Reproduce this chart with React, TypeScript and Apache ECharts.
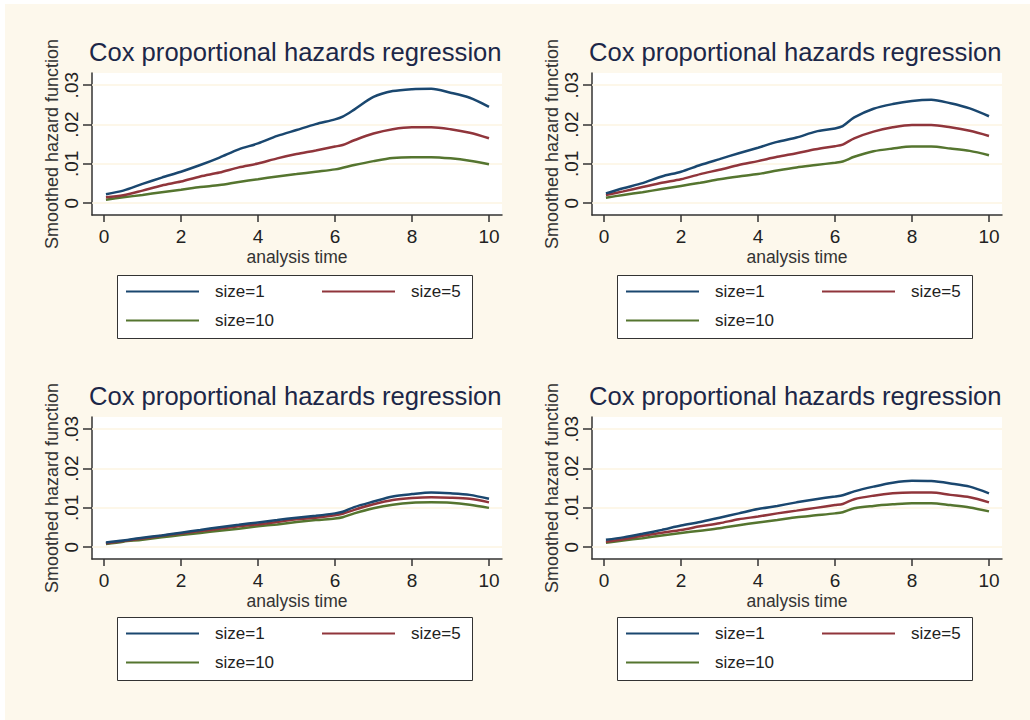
import React, { useEffect, useRef } from "react";
import * as echarts from "echarts";

const time = [0.05, 0.5, 1, 1.5, 2, 2.5, 3, 3.5, 4, 4.5, 5, 5.5, 6, 6.2, 6.5, 7, 7.5, 8, 8.5, 9, 9.5, 10];
const seriesNames = ["size=1", "size=5", "size=10"];
const xTicks = [0, 2, 4, 6, 8, 10];
const yTicks = [0, 0.01, 0.02, 0.03];
const titleText = "Cox proportional hazards regression";
const yTitle = "Smoothed hazard function";
const xTitle = "analysis time";

const p1Blue = [0.0023, 0.0032, 0.0049, 0.0065, 0.008, 0.0097, 0.0116, 0.0137, 0.0152, 0.0171, 0.0186, 0.0201, 0.0213, 0.022, 0.0238, 0.027, 0.0285, 0.029, 0.0291, 0.0281, 0.0268, 0.0245];
const p1Red = [0.0015, 0.002, 0.0032, 0.0045, 0.0055, 0.0068, 0.0078, 0.0091, 0.0101, 0.0114, 0.0125, 0.0134, 0.0144, 0.0148, 0.016, 0.0177, 0.0188, 0.0193, 0.0193, 0.0188, 0.0179, 0.0165];
const p1Green = [0.0009, 0.0015, 0.0021, 0.0028, 0.0034, 0.0041, 0.0046, 0.0054, 0.0061, 0.0068, 0.0074, 0.008, 0.0086, 0.009, 0.0097, 0.0107, 0.0115, 0.0117, 0.0117, 0.0114, 0.0108, 0.0099];

const p2Blue = [0.0025, 0.0038, 0.0051, 0.0068, 0.008, 0.0097, 0.0112, 0.0127, 0.0141, 0.0156, 0.0167, 0.0182, 0.019, 0.0196, 0.0218, 0.024, 0.0252, 0.026, 0.0263, 0.0254, 0.0241, 0.0221];
const p2Red = [0.0021, 0.003, 0.0041, 0.0052, 0.0061, 0.0074, 0.0085, 0.0097, 0.0107, 0.0118, 0.0127, 0.0137, 0.0145, 0.0149, 0.0165, 0.0182, 0.0193, 0.0199, 0.0199, 0.0193, 0.0184, 0.0171];
const p2Green = [0.0014, 0.0021, 0.0028, 0.0036, 0.0044, 0.0052, 0.0061, 0.0068, 0.0074, 0.0083, 0.0091, 0.0097, 0.0103, 0.0106, 0.0118, 0.0132, 0.0139, 0.0144, 0.0144, 0.0139, 0.0133, 0.0122];

const p3Blue = [0.0012, 0.0017, 0.0024, 0.003, 0.0037, 0.0044, 0.0051, 0.0057, 0.0063, 0.0069, 0.0075, 0.008, 0.0086, 0.009, 0.0102, 0.0116, 0.0129, 0.0135, 0.0139, 0.0137, 0.0133, 0.0123];
const p3Red = [0.001, 0.0016, 0.0022, 0.0029, 0.0035, 0.0041, 0.0047, 0.0053, 0.0058, 0.0064, 0.0071, 0.0075, 0.0081, 0.0085, 0.0095, 0.0109, 0.012, 0.0125, 0.0127, 0.0126, 0.0123, 0.0114];
const p3Green = [0.0008, 0.0014, 0.0019, 0.0025, 0.0031, 0.0036, 0.0042, 0.0047, 0.0053, 0.0058, 0.0064, 0.0069, 0.0073, 0.0076, 0.0086, 0.0099, 0.0108, 0.0113, 0.0114, 0.0113, 0.0108, 0.01];

const p4Blue = [0.0019, 0.0025, 0.0034, 0.0044, 0.0055, 0.0064, 0.0075, 0.0086, 0.0097, 0.0105, 0.0114, 0.0122, 0.0129, 0.0132, 0.0142, 0.0154, 0.0164, 0.0169, 0.0168, 0.0162, 0.0154, 0.0137];
const p4Red = [0.0014, 0.002, 0.0029, 0.0037, 0.0044, 0.0053, 0.0061, 0.0071, 0.0078, 0.0086, 0.0093, 0.01, 0.0107, 0.011, 0.0122, 0.0131, 0.0137, 0.0139, 0.0139, 0.0133, 0.0127, 0.0114];
const p4Green = [0.0011, 0.0017, 0.0023, 0.003, 0.0036, 0.0042, 0.0048, 0.0056, 0.0063, 0.0069, 0.0076, 0.0081, 0.0086, 0.0089, 0.0099, 0.0105, 0.0109, 0.0112, 0.0112, 0.0107, 0.0101, 0.0091];

const panels = [
  [p1Blue, p1Red, p1Green],
  [p2Blue, p2Red, p2Green],
  [p3Blue, p3Red, p3Green],
  [p4Blue, p4Red, p4Green],
];

const colors = ["#1a476f", "#90353b", "#55752f"];
const FONT = "Arial, 'Liberation Sans', Helvetica, sans-serif";

export default function App() {
  const ref = useRef<HTMLDivElement>(null);

  useEffect(() => {
    document.body.style.margin = "0";
    if (!ref.current) return;
    const chart = echarts.init(ref.current, null, { renderer: "svg" });

    const offsets = [
      { dx: 0, dy: 0 },
      { dx: 500, dy: 0 },
      { dx: 0, dy: 344 },
      { dx: 500, dy: 344 },
    ];

    const grids: any[] = [];
    const xAxes: any[] = [];
    const yAxes: any[] = [];
    const series: any[] = [];
    const titles: any[] = [];
    const legends: any[] = [];
    const graphics: any[] = [];

    offsets.forEach((o, i) => {
      grids.push({
        left: 92 + o.dx,
        top: 73 + o.dy,
        width: 410,
        height: 142,
        show: true,
        backgroundColor: "#ffffff",
        borderWidth: 0,
      });
      xAxes.push({
        type: "value",
        gridIndex: i,
        min: -0.312,
        max: 10.338,
        position: "bottom",
        name: xTitle,
        nameLocation: "middle",
        nameGap: 33,
        nameTextStyle: { fontFamily: FONT, fontSize: 17.5, color: "#333" },
        axisLine: { show: true, onZero: false, lineStyle: { color: "#333", width: 1.5 } },
        axisTick: { show: true, length: 7, customValues: xTicks, lineStyle: { color: "#333", width: 1.5 } },
        axisLabel: {
          show: true,
          customValues: xTicks,
          margin: 12,
          fontFamily: FONT,
          fontSize: 19,
          color: "#222",
        },
        splitLine: { show: false },
      });
      yAxes.push({
        type: "value",
        gridIndex: i,
        min: -0.003,
        max: 0.0331,
        position: "left",
        name: yTitle,
        nameLocation: "middle",
        nameRotate: 90,
        nameGap: 29,
        nameTextStyle: { fontFamily: FONT, fontSize: 18, color: "#333" },
        axisLine: { show: true, onZero: false, lineStyle: { color: "#333", width: 1.5 } },
        axisTick: { show: true, length: 9, customValues: yTicks, lineStyle: { color: "#333", width: 1.5 } },
        axisLabel: {
          show: true,
          customValues: yTicks,
          rotate: 90,
          margin: 11,
          fontFamily: FONT,
          fontSize: 19,
          color: "#222",
          formatter: (v: number) => (v === 0 ? "0" : String(Number(v.toFixed(4))).replace(/^0\./, ".")),
        },
        splitLine: { show: false },
      });
      titles.push({
        text: titleText,
        left: 89 + o.dx,
        top: 39 + o.dy,
        padding: 0,
        textStyle: { fontFamily: FONT, fontSize: 25.6, fontWeight: "normal", color: "#1c2748" },
      });
      graphics.push({
        type: "rect",
        z: 1,
        shape: { x: 117.5 + o.dx, y: 275.5 + (o.dy ? 342 : 0), width: 355, height: 63 },
        style: { fill: "#ffffff", stroke: "#333", lineWidth: 1 },
      });
      const legendPos = [
        { x: 126, y: 293 },
        { x: 322, y: 293 },
        { x: 126, y: 322 },
      ];
      seriesNames.forEach((nm, k) => {
        legends.push({
          data: [nm],
          left: legendPos[k].x + o.dx,
          top: legendPos[k].y - 10 + (o.dy ? 342 : 0),
          padding: 0,
          icon: "rect",
          itemWidth: 73,
          itemHeight: 2,
          selectedMode: false,
          z: 5,
          textStyle: { fontFamily: FONT, fontSize: 17, color: "#222", padding: [0, 0, 0, 11] },
        });
      });
      panels[i].forEach((vals, k) => {
        series.push({
          type: "line",
          name: seriesNames[k],
          xAxisIndex: i,
          yAxisIndex: i,
          data: time.map((t, j) => [t, vals[j]]),
          showSymbol: false,
          symbol: "none",
          smooth: 0.3,
          lineStyle: { color: colors[k], width: 2.5 },
          itemStyle: { color: colors[k] },
          z: 3 + (3 - k),
          markLine:
            k === 0
              ? {
                  silent: true,
                  symbol: "none",
                  label: { show: false },
                  lineStyle: { color: "#fcf4e2", width: 1.5, type: "solid" },
                  z: 1,
                  data: yTicks.map((v) => ({ yAxis: v })),
                }
              : undefined,
        });
      });
    });

    chart.setOption({
      animation: false,
      backgroundColor: "transparent",
      title: titles,
      grid: grids,
      xAxis: xAxes,
      yAxis: yAxes,
      legend: legends,
      graphic: graphics,
      series,
    });

    return () => chart.dispose();
  }, []);

  return (
    <div style={{ position: "relative", width: 1030, height: 720, background: "#ffffff" }}>
      <div style={{ position: "absolute", left: 5, top: 4, right: 0, bottom: 0, background: "#fdf8ec" }} />
      <div ref={ref} style={{ position: "absolute", left: 0, top: 0, width: 1030, height: 720 }} />
    </div>
  );
}
